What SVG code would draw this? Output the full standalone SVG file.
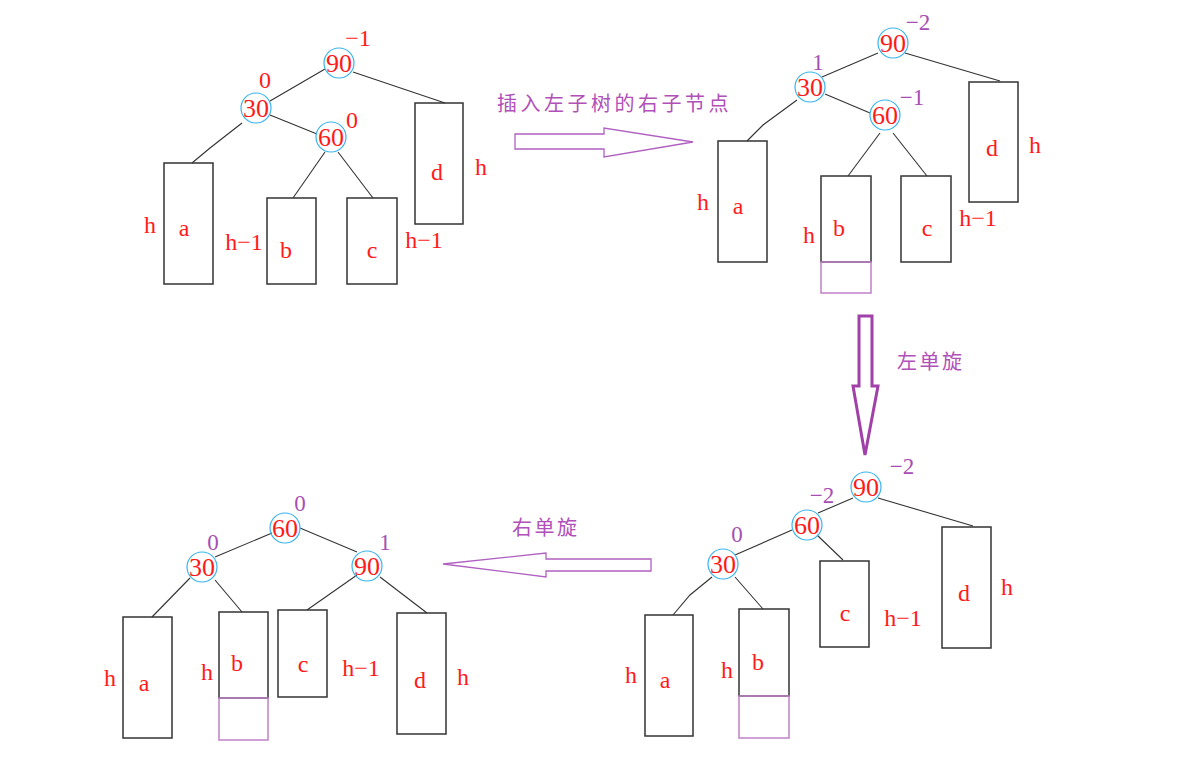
<svg xmlns="http://www.w3.org/2000/svg" width="1184" height="757" viewBox="0 0 1184 757">
<style>
.bg{fill:#fff}
.nd{fill:none;stroke:#3ab4ec;stroke-width:1.2}
.nt{font-family:"Liberation Serif",serif;font-size:26px;fill:#ff1a1a;text-anchor:middle}
.lb{font-family:"Liberation Serif",serif;font-size:24px;fill:#ff1a1a;text-anchor:middle}
.bp{font-family:"Liberation Serif",serif;font-size:23px;fill:#a64fb4;text-anchor:middle}
.bx{fill:none;stroke:#333;stroke-width:1.5}
.px{fill:none;stroke:#c080c8;stroke-width:1.5}
.ln{stroke:#333;stroke-width:1.1;fill:none}
.cn{font-family:"Noto Sans CJK SC","Noto Sans CJK JP",sans-serif;font-size:20px;fill:#b050b8}
.ar{fill:#fff;stroke:#b060c0;stroke-width:1.3}
</style>
<rect class="bg" x="0" y="0" width="1184" height="757"/>

<g id="connectors">
  <!-- panel 1 -->
  <line class="ln" x1="325" y1="69" x2="270" y2="101"/>
  <line class="ln" x1="353" y1="72" x2="445" y2="103"/>
  <line class="ln" x1="270" y1="115" x2="317" y2="134"/>
  <polyline class="ln" points="242,123 210,148 192,163"/>
  <line class="ln" x1="325" y1="152" x2="293" y2="198"/>
  <line class="ln" x1="338" y1="152" x2="373" y2="198"/>
  <!-- panel 2 -->
  <line class="ln" x1="878" y1="53" x2="822" y2="77"/>
  <line class="ln" x1="905" y1="53" x2="1000" y2="81"/>
  <line class="ln" x1="825" y1="94" x2="870" y2="113"/>
  <polyline class="ln" points="797,100 763,125 747,141"/>
  <line class="ln" x1="880" y1="133" x2="848" y2="176"/>
  <line class="ln" x1="893" y1="133" x2="927" y2="176"/>
  <!-- panel 3 -->
  <line class="ln" x1="853" y1="498" x2="818" y2="513"/>
  <line class="ln" x1="878" y1="498" x2="973" y2="526"/>
  <line class="ln" x1="792" y1="530" x2="735" y2="555"/>
  <line class="ln" x1="817" y1="535" x2="843" y2="560"/>
  <polyline class="ln" points="712,577 690,595 673,615"/>
  <line class="ln" x1="735" y1="577" x2="763" y2="609"/>
  <!-- panel 4 -->
  <line class="ln" x1="272" y1="533" x2="215" y2="557"/>
  <line class="ln" x1="300" y1="528" x2="357" y2="552"/>
  <line class="ln" x1="190" y1="578" x2="152" y2="617"/>
  <line class="ln" x1="215" y1="580" x2="242" y2="612"/>
  <line class="ln" x1="357" y1="575" x2="307" y2="610"/>
  <line class="ln" x1="380" y1="577" x2="427" y2="613"/>
</g>

<g id="arrows">
  <polygon class="ar" points="515,134 604,134 604,128 693,142 604,157 604,149 515,149"/>
  <polygon fill="#fff" stroke="#a040a8" stroke-width="3" points="859,316 872,316 872,386 878,386 865,455 853,386 859,386"/>
  <polygon class="ar" points="651,559 546,559 546,553 443,564 546,577 546,571 651,571"/>
  <text class="cn" x="497" y="111" letter-spacing="3.5">插入左子树的右子节点</text>
  <text class="cn" x="897" y="369" font-size="21" letter-spacing="2.5">左单旋</text>
  <text class="cn" x="512" y="535" font-size="21" letter-spacing="2.5">右单旋</text>
</g>

<!-- Panel 1 -->
<g id="p1-n90"><circle class="nd" cx="339" cy="63" r="15"/><text class="nt" x="339" y="72">90</text><text class="lb" x="358" y="46">−1</text></g>
<g id="p1-n30"><circle class="nd" cx="256" cy="108" r="15"/><text class="nt" x="256" y="117">30</text><text class="lb" x="265" y="88">0</text></g>
<g id="p1-n60"><circle class="nd" cx="331" cy="137" r="15"/><text class="nt" x="331" y="146">60</text><text class="lb" x="352" y="128">0</text></g>
<g id="p1-a"><rect class="bx" x="164" y="163" width="49" height="121"/><text class="lb" x="184" y="236">a</text><text class="lb" x="150" y="233">h</text><text class="lb" x="244" y="250">h−1</text></g>
<g id="p1-b"><rect class="bx" x="267" y="198" width="49" height="86"/><text class="lb" x="286" y="258">b</text></g>
<g id="p1-c"><rect class="bx" x="347" y="198" width="50" height="86"/><text class="lb" x="372" y="258">c</text><text class="lb" x="424" y="248">h−1</text></g>
<g id="p1-d"><rect class="bx" x="415" y="103" width="48" height="121"/><text class="lb" x="437" y="180">d</text><text class="lb" x="481" y="175">h</text></g>

<!-- Panel 2 -->
<g id="p2-n90"><circle class="nd" cx="893" cy="43" r="15"/><text class="nt" x="893" y="52">90</text><text class="bp" x="918" y="30">−2</text></g>
<g id="p2-n30"><circle class="nd" cx="810" cy="87" r="15"/><text class="nt" x="810" y="96">30</text><text class="bp" x="818" y="70">1</text></g>
<g id="p2-n60"><circle class="nd" cx="885" cy="115" r="15"/><text class="nt" x="885" y="124">60</text><text class="bp" x="912" y="105">−1</text></g>
<g id="p2-a"><rect class="bx" x="718" y="141" width="49" height="121"/><text class="lb" x="738" y="214">a</text><text class="lb" x="703" y="210">h</text></g>
<g id="p2-b"><rect class="bx" x="821" y="176" width="50" height="86"/><rect class="px" x="821" y="262" width="50" height="31"/><text class="lb" x="839" y="236">b</text><text class="lb" x="809" y="243">h</text></g>
<g id="p2-c"><rect class="bx" x="901" y="176" width="50" height="86"/><text class="lb" x="927" y="236">c</text><text class="lb" x="978" y="226">h−1</text></g>
<g id="p2-d"><rect class="bx" x="969" y="82" width="49" height="120"/><text class="lb" x="992" y="156">d</text><text class="lb" x="1035" y="153">h</text></g>

<!-- Panel 3 -->
<g id="p3-n90"><circle class="nd" cx="866" cy="487" r="15"/><text class="nt" x="866" y="496">90</text><text class="bp" x="902" y="474" font-size="20">−2</text></g>
<g id="p3-n60"><circle class="nd" cx="807" cy="525" r="15"/><text class="nt" x="807" y="534">60</text><text class="bp" x="822" y="503" font-size="20">−2</text></g>
<g id="p3-n30"><circle class="nd" cx="723" cy="564" r="15"/><text class="nt" x="723" y="573">30</text><text class="bp" x="737" y="542" font-size="20">0</text></g>
<g id="p3-a"><rect class="bx" x="645" y="615" width="48" height="121"/><text class="lb" x="665" y="688">a</text><text class="lb" x="631" y="683">h</text></g>
<g id="p3-b"><rect class="bx" x="739" y="609" width="50" height="87"/><rect class="px" x="739" y="696" width="50" height="42"/><text class="lb" x="758" y="670">b</text><text class="lb" x="727" y="678">h</text></g>
<g id="p3-c"><rect class="bx" x="820" y="561" width="49" height="86"/><text class="lb" x="845" y="621">c</text><text class="lb" x="903" y="626">h−1</text></g>
<g id="p3-d"><rect class="bx" x="942" y="527" width="49" height="121"/><text class="lb" x="964" y="601">d</text><text class="lb" x="1007" y="595">h</text></g>

<!-- Panel 4 -->
<g id="p4-n60"><circle class="nd" cx="285" cy="528" r="15"/><text class="nt" x="285" y="537">60</text><text class="bp" x="300" y="511">0</text></g>
<g id="p4-n30"><circle class="nd" cx="202" cy="567" r="15"/><text class="nt" x="202" y="576">30</text><text class="bp" x="213" y="550">0</text></g>
<g id="p4-n90"><circle class="nd" cx="367" cy="566" r="15"/><text class="nt" x="367" y="575">90</text><text class="bp" x="385" y="550">1</text></g>
<g id="p4-a"><rect class="bx" x="123" y="617" width="49" height="121"/><text class="lb" x="144" y="691">a</text><text class="lb" x="110" y="686">h</text></g>
<g id="p4-b"><rect class="bx" x="219" y="612" width="49" height="86"/><rect class="px" x="219" y="698" width="49" height="42"/><text class="lb" x="237" y="671">b</text><text class="lb" x="207" y="680">h</text></g>
<g id="p4-c"><rect class="bx" x="278" y="610" width="49" height="87"/><text class="lb" x="303" y="672">c</text><text class="lb" x="361" y="676">h−1</text></g>
<g id="p4-d"><rect class="bx" x="397" y="613" width="49" height="121"/><text class="lb" x="420" y="688">d</text><text class="lb" x="463" y="685">h</text></g>
</svg>
